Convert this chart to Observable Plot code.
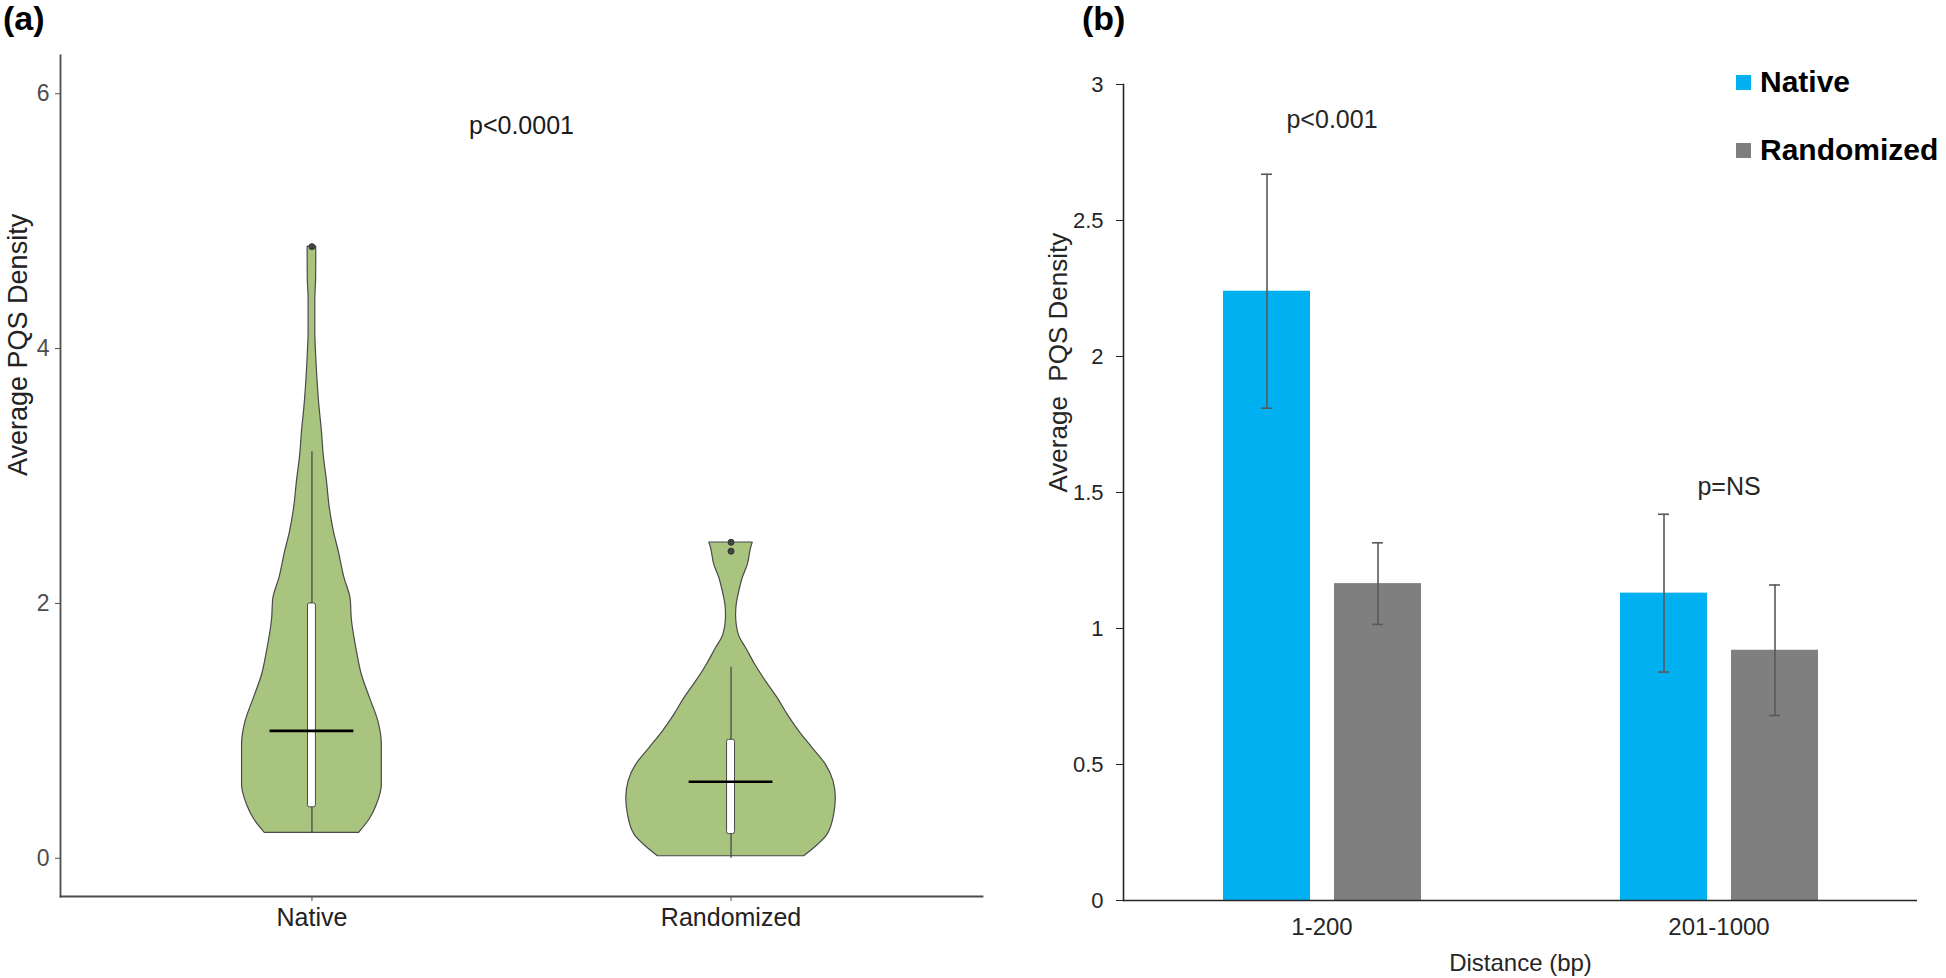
<!DOCTYPE html>
<html>
<head>
<meta charset="utf-8">
<script src="https://cdn.jsdelivr.net/npm/d3@7"></script>
<script src="https://cdn.jsdelivr.net/npm/@observablehq/plot@0.6"></script>
<style>
  body { margin: 0; background: #fff; font-family: "Liberation Sans", Arial, sans-serif; }
  #wrap { position: relative; width: 1946px; height: 978px; overflow: hidden; }
  .panel { position: absolute; top: 0; }
  .lbl { position: absolute; font-weight: bold; font-size: 34px; line-height: 34px; color: #000; }
  .leg-sq { position: absolute; width: 15px; height: 15px; }
  .leg-tx { position: absolute; font-weight: bold; font-size: 30px; line-height: 30px; color: #000; }
</style>
</head>
<body>
<div id="wrap">
  <div class="panel" id="pa" style="left:0px"></div>
  <div class="panel" id="pb" style="left:990px"></div>
  <div class="lbl" style="left:3px;top:1px">(a)</div>
  <div class="lbl" style="left:1082px;top:1px">(b)</div>
  <div id="legend"></div>
</div>
<script>
// ---------- Panel (a): violin data ----------
const groups = ["Native", "Randomized"];
// violin outline: y values and relative half-widths (density, max = 1)
const nativeY  = [0.2, 0.31, 0.42, 0.575, 0.73, 0.89, 1.07, 1.255, 1.44, 1.62, 1.88, 2.03, 2.2, 2.41, 2.56, 2.75, 2.96, 3.15, 3.35, 3.55, 3.74, 3.95, 4.13, 4.39, 4.55, 4.7, 4.8];
const nativeD  = [0.45, 0.555, 0.62, 0.667, 0.667, 0.667, 0.635, 0.555, 0.476, 0.43, 0.38, 0.37, 0.31, 0.255, 0.21, 0.17, 0.143, 0.114, 0.095, 0.071, 0.054, 0.04, 0.032, 0.032, 0.04, 0.041, 0.041];
const randY    = [0.016, 0.186, 0.343, 0.473, 0.604, 0.735, 0.865, 0.996, 1.127, 1.257, 1.388, 1.519, 1.65, 1.728, 1.833, 1.91, 1.99, 2.094, 2.198, 2.30, 2.43, 2.478];
const randD    = [0.698, 0.921, 0.984, 1.0, 0.978, 0.905, 0.778, 0.65, 0.54, 0.445, 0.333, 0.231, 0.143, 0.086, 0.054, 0.048, 0.054, 0.079, 0.111, 0.159, 0.19, 0.207];
// box plot summaries
const boxLow    = [0.2, 0.0];
const boxQ1     = [0.4, 0.19];
const boxMedian = [1.0, 0.6];
const boxQ3     = [2.0, 0.93];
const boxHigh   = [3.19, 1.5];
const outlierGroup = ["Native", "Randomized", "Randomized"];
const outlierValue = [4.8, 2.48, 2.41];
const pTextA = "p<0.0001";
const pTextAPos = [1.5, 5.75];

// ---------- Panel (b): bar data ----------
const distances = ["1-200", "201-1000"];
const series = ["Native", "Randomized"];
const meanNative = [2.24, 1.13];
const meanRandom = [1.165, 0.92];
const errNative  = [0.43, 0.29];
const errRandom  = [0.15, 0.24];
const pTextB = ["p<0.001", "p=NS"];
const pTextBY = [2.87, 1.52];
const yTicksB = [0, 0.5, 1, 1.5, 2, 2.5, 3];
const yTicksA = [0, 2, 4, 6];

const FONT = "Liberation Sans, Arial, sans-serif";
const violinHalf = 0.25;   // x-units for density 1
const boxHalf = 0.0095;
const medianHalf = 0.1;

const pos = g => groups.indexOf(g) + 1;
const nativeViolin = nativeY.map((y, i) => ({y, lo: 1 - nativeD[i] * violinHalf, hi: 1 + nativeD[i] * violinHalf}));
const randViolin = randY.map((y, i) => ({y, lo: 2 - randD[i] * violinHalf, hi: 2 + randD[i] * violinHalf}));
const boxes = groups.map((g, i) => ({p: pos(g), lo: boxLow[i], q1: boxQ1[i], med: boxMedian[i], q3: boxQ3[i], hi: boxHigh[i]}));
const outliers = outlierGroup.map((g, i) => ({p: pos(g), v: outlierValue[i]}));

const violinStyle = {fill: "#a9c47f", stroke: "#4a4a4a", strokeWidth: 1.2, curve: "monotone-y"};

const plotA = Plot.plot({
  width: 990, height: 978,
  marginLeft: 60, marginRight: 8, marginTop: 55, marginBottom: 82,
  style: {fontFamily: FONT, fontSize: "23px", background: "transparent", color: "#4d4d4d"},
  x: {domain: [0.4, 2.6]},
  y: {domain: [-0.3, 6.3]},
  marks: [
    Plot.areaX(nativeViolin, {x1: "lo", x2: "hi", y: "y", ...violinStyle}),
    Plot.areaX(randViolin, {x1: "lo", x2: "hi", y: "y", ...violinStyle}),
    Plot.ruleX(boxes, {x: "p", y1: "lo", y2: "hi", stroke: "#4a4a4a", strokeWidth: 1.3}),
    Plot.rect(boxes, {x1: d => d.p - boxHalf, x2: d => d.p + boxHalf, y1: "q1", y2: "q3", fill: "white", stroke: "#4a4a4a", strokeWidth: 1, rx: 2}),
    Plot.ruleY(boxes, {y: "med", x1: d => d.p - medianHalf, x2: d => d.p + medianHalf, stroke: "#000", strokeWidth: 2.6}),
    Plot.dot(outliers, {x: "p", y: "v", r: 3, fill: "#444", stroke: "#333", strokeWidth: 1}),
    Plot.text([pTextA], {x: pTextAPos[0], y: pTextAPos[1], text: d => d, fontSize: 25, fill: "#1a1a1a"}),
    Plot.frame({anchor: "left", stroke: "#4d4d4d", strokeWidth: 1.8}),
    Plot.frame({anchor: "bottom", stroke: "#4d4d4d", strokeWidth: 1.8}),
    Plot.axisY({ticks: yTicksA, tickFormat: d => String(d), tickSize: 5, tickPadding: 6, label: null, fontSize: 23, stroke: "#4d4d4d", fill: "#4d4d4d"}),
    Plot.axisX({ticks: [1, 2], tickFormat: d => groups[d - 1], tickSize: 5, tickPadding: 7, label: null, fontSize: 25, stroke: "#4d4d4d", fill: "#222"}),
    Plot.text(["Average PQS Density"], {frameAnchor: "left", rotate: -90, dx: -42, fontSize: 27, fill: "#222"})
  ]
});
document.getElementById("pa").appendChild(plotA);

// ---------- Panel (b) ----------
const barData = [];
distances.forEach((d, i) => {
  barData.push({distance: d, series: "Native", mean: meanNative[i], err: errNative[i]});
  barData.push({distance: d, series: "Randomized", mean: meanRandom[i], err: errRandom[i]});
});
const pData = distances.map((d, i) => ({distance: d, y: pTextBY[i], text: pTextB[i]}));

const plotB = Plot.plot({
  width: 956, height: 978,
  marginLeft: 132, marginRight: 29, marginTop: 84, marginBottom: 78,
  style: {fontFamily: FONT, fontSize: "22px", background: "transparent", color: "#262626"},
  fx: {domain: distances, padding: 0, label: null},
  x: {domain: series, paddingInner: 0.22, paddingOuter: 0.89, axis: null},
  y: {domain: [0, 3]},
  color: {domain: series, range: ["#00b0f0", "#7f7f7f"]},
  marks: [
    Plot.barY(barData, {fx: "distance", x: "series", y: "mean", fill: "series"}),
    Plot.ruleX(barData, {fx: "distance", x: "series", y1: d => d.mean - d.err, y2: d => d.mean + d.err, stroke: "#595959", strokeWidth: 1.6}),
    Plot.tickY(barData, {fx: "distance", x: "series", y: d => d.mean - d.err, stroke: "#595959", strokeWidth: 1.6, insetLeft: 38, insetRight: 38}),
    Plot.tickY(barData, {fx: "distance", x: "series", y: d => d.mean + d.err, stroke: "#595959", strokeWidth: 1.6, insetLeft: 38, insetRight: 38}),
    Plot.text(pData, {fx: "distance", y: "y", text: "text", frameAnchor: "middle", dx: 10, fontSize: 25, fill: "#262626"}),
    Plot.ruleY([0], {stroke: "#262626", strokeWidth: 1.6}),
    Plot.frame({anchor: "left", facetAnchor: "left", stroke: "#262626", strokeWidth: 1.6}),
    Plot.axisY({ticks: yTicksB, tickFormat: d => String(d), tickSize: 7, tickPadding: 13, label: null, fontSize: 22, stroke: "#262626", fill: "#262626"}),
    Plot.axisFx({anchor: "bottom", tickSize: 0, tickPadding: 17, fontSize: 24, fill: "#262626", label: "Distance (bp)", labelAnchor: "center", labelOffset: 70}),
    Plot.text(["Average  PQS Density"], {frameAnchor: "left", facetAnchor: "left", rotate: -90, dx: -65, fontSize: 26, fill: "#262626"})
  ]
});
document.getElementById("pb").appendChild(plotB);

// ---------- Legend ----------
const legendColors = ["#00b0f0", "#7f7f7f"];
const legendTops = [75, 143];
const legend = document.getElementById("legend");
series.forEach((s, i) => {
  const sq = document.createElement("div");
  sq.className = "leg-sq";
  sq.style.left = "1736px"; sq.style.top = legendTops[i] + "px"; sq.style.background = legendColors[i];
  legend.appendChild(sq);
  const tx = document.createElement("div");
  tx.className = "leg-tx";
  tx.style.left = "1760px"; tx.style.top = (legendTops[i] - 8) + "px";
  tx.textContent = s;
  legend.appendChild(tx);
});
</script>
</body>
</html>
